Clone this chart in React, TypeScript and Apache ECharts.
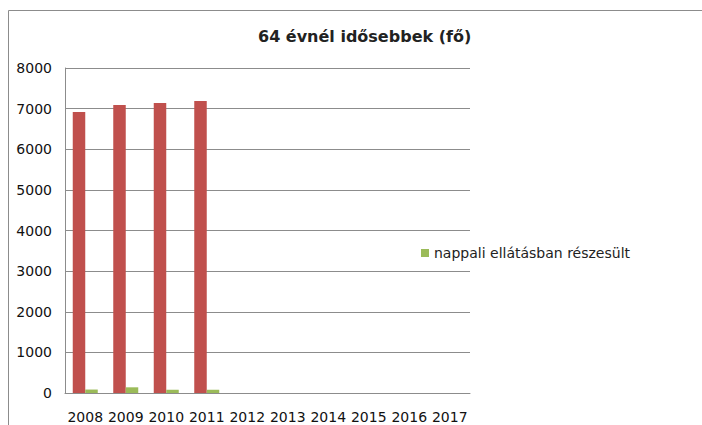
import React, { useEffect, useRef } from "react";
import * as echarts from "echarts";

const years = ["2008", "2009", "2010", "2011", "2012", "2013", "2014", "2015", "2016", "2017"];
const seriesRedName = " ";
const redValues = [6920, 7090, 7140, 7190, null, null, null, null, null, null];
const greenName = "nappali ellátásban részesült";
const greenValues = [85, 140, 80, 80, null, null, null, null, null, null];
const titleText = "64 évnél idősebbek (fő)";

export default function App() {
  const ref = useRef<HTMLDivElement>(null);
  useEffect(() => {
    if (!ref.current) return;
    const chart = echarts.init(ref.current, null, { renderer: "svg" });
    const font = "'DejaVu Sans', sans-serif";
    chart.setOption({
      animation: false,
      backgroundColor: "#fff",
      textStyle: { fontFamily: font },
      title: {
        text: titleText,
        left: 253,
        top: 23,
        textStyle: { fontSize: 16, fontWeight: "bold", color: "#222", fontFamily: font },
      },
      graphic: [
        {
          type: "rect",
          shape: { x: 8.5, y: 10.5, width: 800, height: 600 },
          style: { fill: "none", stroke: "#8c8c8c", lineWidth: 1 },
          silent: true,
        },
      ],
      legend: {
        data: [{ name: greenName, itemStyle: { color: "#9BBB59" } }],
        left: 416,
        top: 241,
        icon: "rect",
        itemWidth: 8,
        itemHeight: 8,
        itemGap: 5,
        textStyle: { fontSize: 14, color: "#222", fontFamily: font },
      },
      grid: { left: 65, right: 232, top: 68, bottom: 32, containLabel: false },
      xAxis: {
        type: "category",
        data: years,
        axisLine: { lineStyle: { color: "#8c8c8c" } },
        axisTick: { show: false },
        axisLabel: {
          fontSize: 14,
          color: "#111",
          margin: 17,
          fontFamily: font,
          interval: 0,
          hideOverlap: false,
        },
      },
      yAxis: {
        type: "value",
        min: 0,
        max: 8000,
        interval: 1000,
        axisLine: { show: true, lineStyle: { color: "#8c8c8c" } },
        axisTick: { show: false },
        axisLabel: {
          fontSize: 14,
          color: "#111",
          margin: 13,
          fontFamily: font,
          formatter: (v: number) => String(v),
        },
        splitLine: { lineStyle: { color: "#8c8c8c" } },
      },
      series: [
        {
          name: seriesRedName,
          type: "bar",
          data: redValues,
          barWidth: 12.5,
          barGap: "0%",
          itemStyle: { color: "#C0504D" },
        },
        {
          name: greenName,
          type: "bar",
          data: greenValues,
          barWidth: 12.5,
          barGap: "0%",
          itemStyle: { color: "#9BBB59" },
        },
      ],
    });
    return () => chart.dispose();
  }, []);
  return (
    <div
      ref={ref}
      style={{ position: "fixed", left: 0, top: 0, width: 702, height: 425 }}
    />
  );
}
